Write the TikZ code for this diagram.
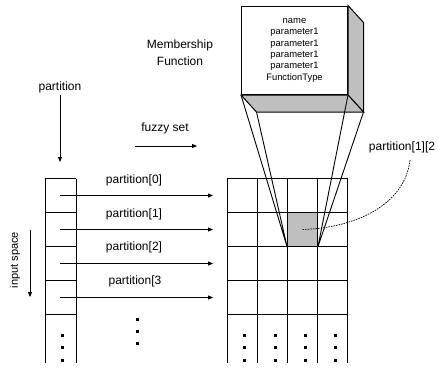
\documentclass[tikz,border=0pt]{standalone}
\usepackage{fontspec}
\setmainfont{Liberation Sans}
\usetikzlibrary{arrows.meta}

\tikzset{
  lbl/.style={font=\fontsize{12}{17.5}\selectfont, inner sep=0pt, align=center},
  mftext/.style={font=\fontsize{9.4}{11.4}\selectfont, align=center},
  flow/.style={-{Triangle[length=5pt,width=4pt]}, line width=0.8pt},
  cellline/.style={line width=1pt},
  leader/.style={line width=0.7pt, dash pattern=on 1.6pt off 1pt},
}

\begin{document}
\begin{tikzpicture}[x=1pt,y=-1pt]
  \useasboundingbox (0,0) rectangle (438,368);

  % membership function block, drawn as a box
  \node[draw, line width=1pt, minimum width=106pt, minimum height=88.5pt, inner sep=0pt, mftext] (mf) at (294.5,50.25)
    {name\\parameter1\\parameter1\\parameter1\\parameter1\\FunctionType};
  \path (mf.north east) ++(15.5,17) coordinate (backne)
        (mf.south east) ++(15.5,17) coordinate (backse)
        (mf.south west) ++(15.5,17) coordinate (backsw);
  \filldraw[fill=gray!50, line width=1pt] (mf.north east) -- (backne) -- (backse) -- (mf.south east) -- cycle;
  \filldraw[fill=gray!50, line width=1pt] (mf.south west) -- (mf.south east) -- (backse) -- (backsw) -- cycle;
  \node[lbl] (mflabel) at (180,52.5) {Membership\\Function};

  % fuzzy set grid
  \node[fill=gray!50, minimum width=30.5pt, minimum height=34pt, inner sep=0pt] (hit) at (302.5,229.5) {};
  \foreach \x in {227,257,287.5,317.5,347.5}
    \draw[cellline] (\x,178.5) -- (\x,363);
  \foreach \y in {178.5,212.5,246.5,280.5,314.5}
    \draw[cellline] (227,\y) -- (347.5,\y);
  \draw[line width=0.9pt] (mf.south west) -- (hit.south west)
                          (backsw) -- (hit.south west)
                          (mf.south east) -- (hit.south east)
                          (backse) -- (hit.south east);

  % input space column
  \draw[cellline] (45,178.5) -- (45,363) (76,178.5) -- (76,363);
  \foreach \y in {178.5,212.5,246.5,280.5,314.5}
    \draw[cellline] (45,\y) -- (76,\y);

  \foreach \r/\y in {0/195.5,1/229.5,2/263.5,3/297.5} {
    \coordinate (src\r) at (60,\y);
    \coordinate (dst\r) at (213,\y);
    \draw[flow] (src\r) -- (dst\r);
  }
  \node[lbl] (p0) at (134,180.5) {partition[0]};
  \node[lbl] (p1) at (134,214) {partition[1]};
  \node[lbl] (p2) at (134,247.5) {partition[2]};
  \node[lbl] (p3) at (135,281) {partition[3};

  \node[lbl] (part) at (60,87.5) {partition};
  \coordinate (partend) at (60,162);
  \draw[flow] (part.south) ++(0,1.5) -- (partend);

  \node[lbl] (fuzzy) at (165,128) {fuzzy set};
  \coordinate (fuzzyl) at (135,146);
  \coordinate (fuzzyr) at (197,146);
  \draw[flow] (fuzzyl) -- (fuzzyr);

  \node[lbl, font=\fontsize{11}{13}\selectfont, rotate=90] (inspace) at (15,260) {input space};
  \coordinate (intop) at (30,230);
  \coordinate (inbot) at (30,297);
  \draw[flow] (intop) -- (inbot);

  \node[lbl] (cellname) at (402,147) {partition[1][2};
  \coordinate (tagend) at (410,160);
  \draw[leader] (hit.center) .. controls (355,228) and (405,205) .. (tagend);

  % continuation marks
  \foreach \y in {335,347.5,360} {
    \fill (60.5,\y-1.5) rectangle ++(3,3);
    \foreach \x in {244,275,305,335}
      \fill (\x-1.5,\y-1.5) rectangle ++(3,3);
  }
  \foreach \y in {319,331,343}
    \fill (135.5,\y-1.5) rectangle ++(3,3);
\end{tikzpicture}
\end{document}
